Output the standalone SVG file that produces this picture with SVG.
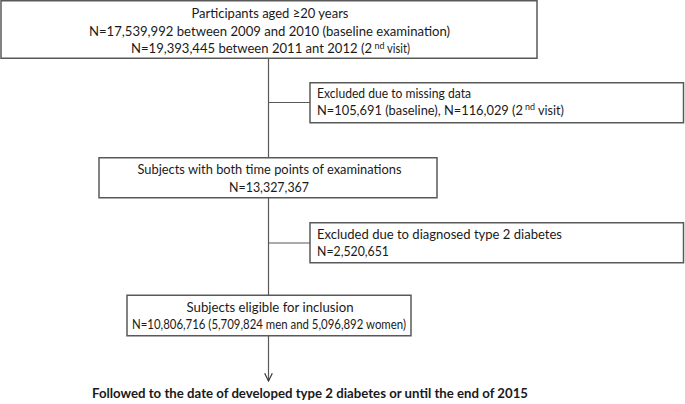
<svg xmlns="http://www.w3.org/2000/svg" width="685" height="404" viewBox="0 0 685 404">
<defs>
<style>
.box{fill:#fff;stroke:#595959;stroke-width:1.5}
.t{font-family:Lato,"Open Sans","Liberation Sans",sans-serif;font-size:13.4px;fill:#1a1a1a}
.s13{font-size:13px}
.c{text-anchor:middle}
.e{text-anchor:end}
.b{font-weight:bold}
.ln{stroke:#595959;stroke-width:1.2;fill:none}
.sup{font-family:Lato,"Open Sans","Liberation Sans",sans-serif;font-size:8.5px;fill:#1a1a1a}
</style>
<marker id="arr" viewBox="0 0 10 10" refX="9" refY="5" markerWidth="8" markerHeight="8" orient="auto">
<path d="M1,1 L9,5 L1,9" fill="none" stroke="#333" stroke-width="1.2"/>
</marker>
</defs>
<g id="connectors">
<line class="ln" x1="268.5" y1="58" x2="268.5" y2="158"/>
<line class="ln" x1="268.5" y1="102.5" x2="310" y2="102.5"/>
<line class="ln" x1="268.5" y1="198" x2="268.5" y2="295"/>
<line class="ln" x1="268.5" y1="243" x2="310" y2="243"/>
<line class="ln" x1="268.5" y1="336" x2="268.5" y2="381" marker-end="url(#arr)"/>
</g>
<g id="n1">
<rect class="box" x="1" y="0.75" width="536" height="57.5"/>
<text class="t c" x="270" y="18" textLength="157" lengthAdjust="spacingAndGlyphs">Participants aged ≥20 years</text>
<text class="t c" x="269.5" y="35.5" textLength="361" lengthAdjust="spacingAndGlyphs">N=17,539,992 between 2009 and 2010 (baseline examination)</text>
<text class="t s13" x="131" y="53" textLength="241" lengthAdjust="spacingAndGlyphs">N=19,393,445 between 2011 ant 2012 (2</text>
<text class="sup" x="374.5" y="48.5" textLength="10" lengthAdjust="spacingAndGlyphs">nd</text>
<text class="t e" x="410" y="53" textLength="23" lengthAdjust="spacingAndGlyphs">visit)</text>
</g>
<g id="n2">
<rect class="box" x="310" y="82.75" width="373.5" height="40"/>
<text class="t" x="317" y="98" textLength="154" lengthAdjust="spacingAndGlyphs">Excluded due to missing data</text>
<text class="t s13" x="317" y="114.5" textLength="206" lengthAdjust="spacingAndGlyphs">N=105,691 (baseline), N=116,029 (2</text>
<text class="sup" x="525" y="110" textLength="10" lengthAdjust="spacingAndGlyphs">nd</text>
<text class="t e" x="564" y="114.5" textLength="26" lengthAdjust="spacingAndGlyphs">visit)</text>
</g>
<g id="n3">
<rect class="box" x="99" y="157.75" width="338" height="40"/>
<text class="t c" x="269.5" y="174" textLength="264" lengthAdjust="spacingAndGlyphs">Subjects with both time points of examinations</text>
<text class="t c" x="269" y="191.5" textLength="80" lengthAdjust="spacingAndGlyphs">N=13,327,367</text>
</g>
<g id="n4">
<rect class="box" x="310" y="222.75" width="373.5" height="40"/>
<text class="t" x="317" y="239" textLength="245" lengthAdjust="spacingAndGlyphs">Excluded due to diagnosed type 2 diabetes</text>
<text class="t" x="317" y="255.5" textLength="72" lengthAdjust="spacingAndGlyphs">N=2,520,651</text>
</g>
<g id="n5">
<rect class="box" x="127" y="295.25" width="284" height="40.5"/>
<text class="t c" x="270" y="312" textLength="167" lengthAdjust="spacingAndGlyphs">Subjects eligible for inclusion</text>
<text class="t c" x="269" y="329" textLength="274" lengthAdjust="spacingAndGlyphs">N=10,806,716 (5,709,824 men and 5,096,892 women)</text>
</g>
<g id="n6">
<text class="t c b" x="310" y="398" textLength="436" lengthAdjust="spacingAndGlyphs">Followed to the date of developed type 2 diabetes or until the end of 2015</text>
</g>
</svg>
